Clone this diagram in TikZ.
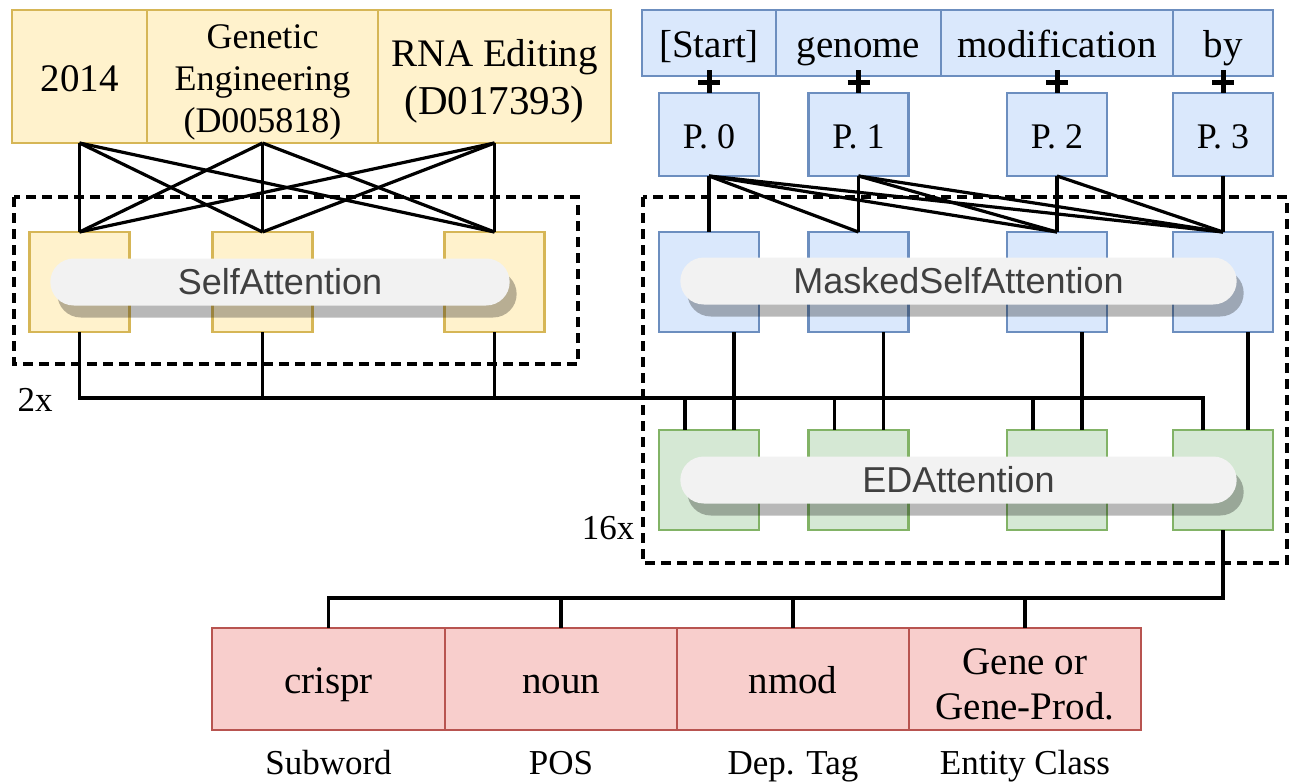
\documentclass[tikz,border=0pt]{standalone}
\usepackage{fontspec}
\setmainfont{Liberation Serif}
\setsansfont{Liberation Sans}
\usetikzlibrary{positioning, shapes.misc, shadows}

\definecolor{yelfill}{HTML}{FFF2CC}
\definecolor{yelline}{HTML}{D6B656}
\definecolor{bluefill}{HTML}{DAE8FC}
\definecolor{blueline}{HTML}{6C8EBF}
\definecolor{grnfill}{HTML}{D5E8D4}
\definecolor{grnline}{HTML}{82B366}
\definecolor{redfill}{HTML}{F8CECC}
\definecolor{redline}{HTML}{B85450}
\definecolor{pillfill}{HTML}{F2F2F2}
\definecolor{pilltext}{HTML}{404040}

\newcommand{\tokfont}{\fontsize{39}{48}\selectfont}
\newcommand{\kwfont}{\fontsize{36}{42}\selectfont}
\newcommand{\tagfont}{\fontsize{35}{40}\selectfont}
\newcommand{\pillfont}{\sffamily\fontsize{36}{40}\selectfont}
\newcommand{\topstrut}{\rule{0pt}{36pt}}

\begin{document}
\begin{tikzpicture}[x=1pt, y=-1pt,
    cell/.style={draw, line width=2.2pt, inner sep=0pt, outer sep=0pt, align=center, font=\tokfont},
    oneline/.style={text height=30pt, text depth=1pt},
    kw/.style={cell, draw=yelline, fill=yelfill, minimum height=133pt},
    tok/.style={cell, oneline, draw=blueline, fill=bluefill, minimum height=66pt},
    posbox/.style={cell, draw=blueline, fill=bluefill, minimum width=100pt, minimum height=83pt,
      font=\kwfont, text height=28pt, text depth=1pt},
    attbox/.style={cell, minimum width=100pt, minimum height=100pt},
    sabox/.style={attbox, draw=yelline, fill=yelfill},
    msabox/.style={attbox, draw=blueline, fill=bluefill},
    edabox/.style={attbox, draw=grnline, fill=grnfill},
    tagbox/.style={cell, draw=redline, fill=redfill, minimum width=232pt, minimum height=102pt},
    tagtxt/.style={inner sep=0pt, font=\tagfont, text height=24pt, text depth=7pt},
    pill/.style={rounded rectangle, fill=pillfill, text=pilltext, font=\pillfont, minimum height=47pt,
      drop shadow={shadow xshift=7pt, shadow yshift=-12pt, fill=black, opacity=0.28}},
    wire/.style={line width=3.2pt},
    plusmark/.style={line width=5pt},
    dashbox/.style={line width=3.2pt, dash pattern=on 10pt off 6pt}
  ]
    \useasboundingbox (0,0) rectangle (1296,782);

    % repeated blocks
    \draw[dashbox] (14,197) rectangle (578,364);
    \draw[dashbox] (643,197) rectangle (1287,563);
    \node[font=\tagfont, inner sep=0pt] (encreps) at (35,400) {2x};
    \node[font=\tagfont, inner sep=0pt] (decreps) at (608,528) {16x};

    % encoder input
    \node[kw, oneline, minimum width=135pt] (kw1) at (79.5,76.5) {2014};
    \node[kw, minimum width=231pt, font=\kwfont, right=0pt of kw1] (kw2) {\topstrut Genetic\\Engineering\\(D005818)};
    \node[kw, minimum width=233pt, right=0pt of kw2] (kw3) {\topstrut RNA Editing\\{\fontsize{41}{48}\selectfont (D017393)}};
    \foreach \i in {1,2,3}
      \node[sabox, below=89pt of kw\i] (sa\i) {};

    % decoder input
    \node[tok, minimum width=134pt] (tok1) at (709,43) {[Start]};
    \node[tok, minimum width=165pt, right=0pt of tok1] (tok2) {genome};
    \node[tok, minimum width=232pt, right=0pt of tok2] (tok3) {modification};
    \node[tok, minimum width=100pt, right=0pt of tok3] (tok4) {by};
    \node[posbox, below=17pt of tok1] (p1) {P. 0};
    \node[posbox, below=17pt of tok2] (p2) {P. 1};
    \node[posbox, below=17pt of tok3] (p3) {P. 2};
    \node[posbox, below=17pt of tok4] (p4) {P. 3};
    \foreach \i in {1,...,4} {
      \node[msabox, below=56pt of p\i] (msa\i) {};
      \node[edabox, below=98pt of msa\i] (eda\i) {};
    }

    % output tags
    \node[tagbox, oneline, minimum width=233pt] (red1) at (328.5,679) {crispr};
    \node[tagbox, oneline, right=0pt of red1] (red2) {noun};
    \node[tagbox, oneline, right=0pt of red2] (red3) {nmod};
    \node[tagbox, right=0pt of red3] (red4) {\topstrut Gene or\\[-3pt]Gene-Prod.};
    \node[tagtxt, below=20pt of red1] (lab1) {Subword};
    \node[tagtxt, below=20pt of red2] (lab2) {POS};
    \node[tagtxt, below=20pt of red3] (lab3) {Dep. Tag};
    \node[tagtxt, below=20pt of red4] (lab4) {Entity Class};

    % wiring
    \foreach \i in {1,2,3}
      \foreach \j in {1,2,3}
        \draw[wire] (kw\i.south) -- (sa\j.north);
    \foreach \j in {1,...,4}
      \foreach \i in {\j,...,4}
        \draw[wire] (p\j.south) -- (msa\i.north);
    \foreach \i in {1,...,4}
      \draw[plusmark] ([yshift=23pt]p\i.north) -- (p\i.north)
        ([xshift=-11pt, yshift=11pt]p\i.north) -- ([xshift=11pt, yshift=11pt]p\i.north);

    \coordinate (bus) at (0,398);
    \draw[wire] (sa1.south) -- (sa1.south |- bus) -- ([xshift=-20pt]eda4.north |- bus) -- ([xshift=-20pt]eda4.north);
    \foreach \i in {2,3}
      \draw[wire] (sa\i.south) -- (sa\i.south |- bus);
    \foreach \i in {1,2,3}
      \draw[wire] ([xshift=-24pt]eda\i.north |- bus) -- ([xshift=-24pt]eda\i.north);
    \foreach \i in {1,...,4}
      \draw[wire] ([xshift=25pt]msa\i.south) -- ([xshift=25pt]eda\i.north);

    \coordinate (outbus) at (0,598);
    \draw[wire] (eda4.south) -- (eda4.south |- outbus) -| (red1.north);
    \foreach \i in {2,3,4}
      \draw[wire] (red\i.north) -- (red\i.north |- outbus);

    % attention layers
    \node[pill, minimum width=466pt] (selfatt) at (280,282) {SelfAttention};
    \node[pill, minimum width=563pt] (maskatt) at (958.5,281) {MaskedSelfAttention};
    \node[pill, minimum width=563pt] (edatt) at (958.5,480) {EDAttention};
  \end{tikzpicture}
\end{document}
